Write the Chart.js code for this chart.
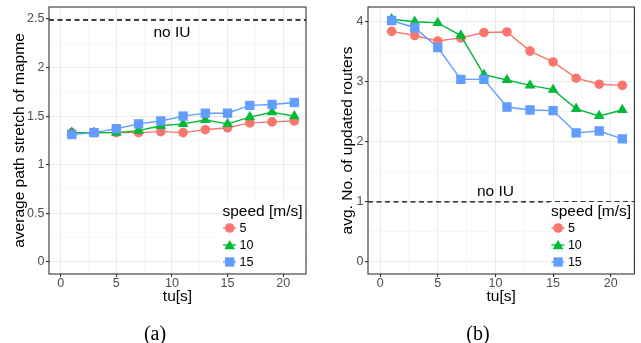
<!DOCTYPE html>
<html><head><meta charset="utf-8">
<script src="https://cdn.jsdelivr.net/npm/chart.js@4.4.1/dist/chart.umd.min.js"></script>
<style>
html,body{margin:0;padding:0;background:#fff;}
#wrap{position:relative;width:641px;height:343px;overflow:hidden;background:#fff;}
#c1{position:absolute;left:0;top:0;width:320px;height:343px;}
#c2{position:absolute;left:320px;top:0;width:321px;height:343px;}
.cap{position:absolute;top:321px;font-family:"Liberation Serif","Times New Roman",serif;font-size:20px;color:#000;width:60px;text-align:center;line-height:24px;}
</style></head><body>
<div id="wrap">
<canvas id="c1" width="320" height="343"></canvas>
<canvas id="c2" width="321" height="343"></canvas>
<div class="cap" style="left:125px">(a)</div>
<div class="cap" style="left:448px">(b)</div>
</div>
<script>
// ---- data ----
const tu = [1, 3, 5, 7, 9, 11, 13, 15, 17, 19, 21];
const speeds = ['5', '10', '15'];
const stretch5  = [1.33, 1.33, 1.33, 1.33, 1.34, 1.33, 1.36, 1.38, 1.43, 1.44, 1.45];
const stretch10 = [1.33, 1.33, 1.33, 1.35, 1.40, 1.42, 1.46, 1.42, 1.49, 1.54, 1.50];
const stretch15 = [1.31, 1.33, 1.37, 1.42, 1.45, 1.50, 1.53, 1.53, 1.61, 1.62, 1.64];
const routers5  = [3.84, 3.77, 3.68, 3.73, 3.82, 3.83, 3.51, 3.33, 3.06, 2.96, 2.94];
const routers10 = [4.04, 4.00, 3.98, 3.77, 3.12, 3.03, 2.94, 2.87, 2.55, 2.43, 2.53];
const routers15 = [4.02, 3.90, 3.57, 3.04, 3.04, 2.58, 2.53, 2.52, 2.15, 2.18, 2.05];
const noIU_A = 2.49;
const noIU_B = 1.0;
const xTickLabels = ['0', '5', '10', '15', '20'];
const yTickLabelsA = ['0', '0.5', '1', '1.5', '2', '2.5'];
const yTickLabelsB = ['0', '1', '2', '3', '4'];

// ---- styles ----
const colors = ['#F8766D', '#00BA38', '#619CFF'];
const shapes = ['circle', 'triangle', 'rect'];
const radii = [4.8, 6.2, 6.6];
const FONT = '"Liberation Sans", Arial, sans-serif';
const X_MIN = -1.05, X_MAX = 22.05;

function fmt(v) { return String(Math.round(v * 1000) / 1000); }
function pts(ys) { return tu.map((x, i) => ({ x: x, y: ys[i] })); }

function drawShape(ctx, shape, x, y, r, color) {
  ctx.save();
  ctx.fillStyle = color;
  ctx.beginPath();
  if (shape === 'circle') {
    ctx.arc(x, y, r, 0, Math.PI * 2);
  } else if (shape === 'triangle') {
    ctx.moveTo(x, y - r);
    ctx.lineTo(x + 0.866 * r, y + 0.5 * r);
    ctx.lineTo(x - 0.866 * r, y + 0.5 * r);
    ctx.closePath();
  } else {
    const h = r * Math.SQRT1_2;
    ctx.rect(x - h, y - h, 2 * h, 2 * h);
  }
  ctx.fill();
  ctx.restore();
}

const panelPlugin = {
  id: 'panel',
  afterDatasetsDraw(chart) {
    const ctx = chart.ctx;
    const a = chart.chartArea;
    const o = chart.options.plugins.panel;
    const xs = chart.scales.x, ys = chart.scales.y;
    // "no IU" label
    ctx.save();
    ctx.fillStyle = '#000';
    ctx.font = '15.5px ' + FONT;
    ctx.textAlign = 'center';
    ctx.textBaseline = 'middle';
    ctx.fillText('no IU', xs.getPixelForValue(o.labelX), ys.getPixelForValue(o.labelY));
    ctx.restore();
    // legend
    const R = a.right, B = a.bottom;
    ctx.save();
    ctx.fillStyle = '#fff';
    ctx.fillRect(R - 85, B - 72, 84, 69);
    ctx.fillStyle = '#000';
    ctx.font = '15.5px ' + FONT;
    ctx.textAlign = 'left';
    ctx.textBaseline = 'middle';
    ctx.fillText('speed [m/s]', R - 83.5, B - 62.3);
    const rows = [B - 46, B - 29, B - 12];
    speeds.forEach((s, i) => {
      const y = rows[i];
      ctx.strokeStyle = colors[i];
      ctx.lineWidth = 1.4;
      ctx.beginPath();
      ctx.moveTo(R - 83, y);
      ctx.lineTo(R - 70, y);
      ctx.stroke();
      drawShape(ctx, shapes[i], R - 76.3, y + (shapes[i] === 'triangle' ? 1.2 : 0), radii[i], colors[i]);
      ctx.fillStyle = '#000';
      ctx.font = '12.5px ' + FONT;
      ctx.fillText(s, R - 66.5, y + 0.5);
    });
    ctx.restore();
    // panel border
    ctx.save();
    ctx.strokeStyle = '#333333';
    ctx.lineWidth = 1.1;
    ctx.strokeRect(a.left, a.top, a.right - a.left, a.bottom - a.top);
    ctx.restore();
  }
};

function makeChart(id, series, hline, yMin, yMax, yStep, yLabels, yTitle, yWidth, yTitlePad, padRight, labelY) {
  const datasets = series.map((ys, i) => ({
    data: pts(ys),
    borderColor: colors[i],
    backgroundColor: colors[i],
    borderWidth: 1.4,
    pointStyle: shapes[i],
    pointRadius: radii[i],
    pointBorderWidth: 0,
    pointBackgroundColor: colors[i],
    order: 3 - i
  }));
  datasets.push({
    data: [{ x: X_MIN, y: hline }, { x: X_MAX, y: hline }],
    borderColor: '#000',
    borderWidth: 1.3,
    borderDash: [5, 3.5],
    pointRadius: 0,
    order: 0
  });
  const isMajorX = v => xTickLabels.includes(fmt(v));
  const isMajorY = v => yLabels.includes(fmt(v));
  const gridOpts = (isMajor) => ({
    color: c => (c.tick && isMajor(c.tick.value)) ? '#EBEBEB' : '#F2F2F2',
    lineWidth: c => (c.tick && isMajor(c.tick.value)) ? 1.1 : 0.6,
    tickColor: c => (c.tick && isMajor(c.tick.value)) ? '#333333' : 'rgba(0,0,0,0)',
    tickWidth: 1.1,
    tickLength: 3,
    drawTicks: true
  });
  return new Chart(document.getElementById(id), {
    type: 'line',
    data: { datasets: datasets },
    plugins: [panelPlugin],
    options: {
      responsive: false,
      animation: false,
      events: [],
      layout: { padding: { left: 0, top: 7, right: padRight, bottom: 0 } },
      plugins: {
        legend: { display: false },
        tooltip: { enabled: false },
        panel: { labelX: 10, labelY: labelY }
      },
      scales: {
        x: {
          type: 'linear',
          min: X_MIN, max: X_MAX,
          border: { display: false },
          grid: gridOpts(isMajorX),
          ticks: {
            stepSize: 2.5, includeBounds: false, autoSkip: false, maxRotation: 0,
            color: '#4D4D4D', padding: 0,
            font: { family: FONT, size: 12.5, lineHeight: 1 },
            callback: v => isMajorX(v) ? fmt(v) : ''
          },
          title: {
            display: true, text: 'tu[s]', color: '#000',
            font: { family: FONT, size: 15.5, lineHeight: 1 },
            padding: { top: 0, bottom: 38.5 }
          },
          afterFit: s => { s.height = 69; s.paddingLeft = 0; s.paddingRight = 0; }
        },
        y: {
          type: 'linear',
          min: yMin, max: yMax,
          border: { display: false },
          grid: gridOpts(isMajorY),
          ticks: {
            stepSize: yStep, includeBounds: false, autoSkip: false,
            color: '#4D4D4D', padding: 1.5,
            font: { family: FONT, size: 12.5, lineHeight: 1 },
            callback: v => isMajorY(v) ? fmt(v) : ''
          },
          title: {
            display: true, text: yTitle, color: '#000',
            font: { family: FONT, size: 15.5, lineHeight: 1 },
            padding: { top: yTitlePad, bottom: 0 }
          },
          afterFit: s => { s.width = yWidth; s.paddingTop = 0; s.paddingBottom = 0; }
        }
      }
    }
  });
}

makeChart('c1', [stretch5, stretch10, stretch15], noIU_A, -0.127, 2.624, 0.25, yTickLabelsA,
  'average path stretch of mapme', 49, 12.25, 14, 2.36);
makeChart('c2', [routers5, routers10, routers15], noIU_B, -0.2, 4.245, 0.5, yTickLabelsB,
  'avg. No. of updated routers', 48, 20.25, 5.7, 1.17);
</script>
</body></html>
